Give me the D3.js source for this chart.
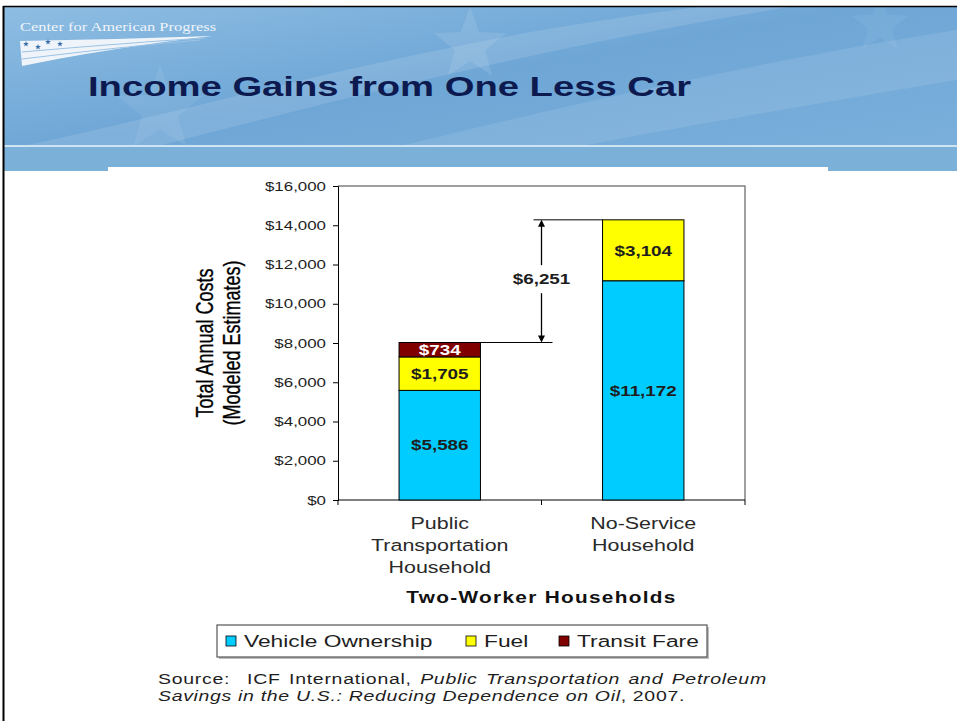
<!DOCTYPE html>
<html>
<head>
<meta charset="utf-8">
<script src="https://cdn.jsdelivr.net/npm/d3@7/dist/d3.min.js"></script>
<style>
  html, body { margin: 0; padding: 0; background: #fff; }
  svg { display: block; font-family: Arial, "Liberation Sans", sans-serif; }
</style>
</head>
<body>
<div id="chart"></div>
<script>
//Datos del gráfico
const categories = ['Public Transportation Household', 'No-Service Household'];
const categoryLines = [['Public', 'Transportation', 'Household'], ['No-Service', 'Household']];
const seriesNames = ['Vehicle Ownership', 'Fuel', 'Transit Fare'];
const vehicleOwnership = [5586, 11172];
const fuel = [1705, 3104];
const transitFare = [734, 0];
const yTicks = [0, 2000, 4000, 6000, 8000, 10000, 12000, 14000, 16000];

//Colores fijos
const COLOR_VEHICLE = '#00CCFF',
  COLOR_FUEL = '#FFFF00',
  COLOR_FARE = '#800000',
  COLOR_TITLE = '#0d1a50',
  COLOR_TEXT = '#1e1e1e';

const W = 957, H = 721;
const SX = 1.3; // la imagen original está estirada en horizontal

const svg = d3.select('#chart').append('svg')
  .attr('width', W).attr('height', H);

/////
// Cabecera de la diapositiva
/////
const defs = svg.append('defs');
const grad = defs.append('linearGradient').attr('id', 'hdr')
  .attr('x1', '0').attr('y1', '0').attr('x2', '1').attr('y2', '1');
grad.append('stop').attr('offset', '0%').attr('stop-color', '#8ebde2');
grad.append('stop').attr('offset', '45%').attr('stop-color', '#6ea6d6');
grad.append('stop').attr('offset', '100%').attr('stop-color', '#7cb1db');

svg.append('rect').attr('x', 4).attr('y', 7).attr('width', W - 4).attr('height', 164)
  .attr('fill', 'url(#hdr)');

// franjas claras en diagonal
svg.append('path')
  .attr('d', 'M4,150 C200,110 420,40 700,7 L790,7 C520,50 260,120 60,171 L4,171 Z')
  .attr('fill', '#ffffff').attr('opacity', 0.12);
svg.append('path')
  .attr('d', 'M300,171 C500,120 760,60 957,30 L957,80 C780,110 600,140 460,171 Z')
  .attr('fill', '#ffffff').attr('opacity', 0.10);

// estrellas tenues
function star(cx, cy, r) {
  const pts = d3.range(10).map(i => {
    const a = -Math.PI / 2 + i * Math.PI / 5;
    const rr = i % 2 ? r * 0.42 : r;
    return [cx + rr * Math.cos(a), cy + rr * Math.sin(a)];
  });
  return 'M' + pts.join('L') + 'Z';
}
[[470, 45, 38, 0.10], [160, 110, 45, 0.07], [880, 25, 30, 0.06]].forEach(s => {
  svg.append('path').attr('d', star(s[0], s[1], s[2])).attr('fill', '#ffffff').attr('opacity', s[3]);
});

// línea y banda inferior de la cabecera
svg.append('rect').attr('x', 4).attr('y', 147).attr('width', W - 4).attr('height', 24).attr('fill', '#7bb0d9');
svg.append('rect').attr('x', 4).attr('y', 145).attr('width', W - 4).attr('height', 2).attr('fill', '#cfe4f3');
svg.append('rect').attr('x', 4).attr('y', 171).attr('width', W - 4).attr('height', H - 171).attr('fill', '#ffffff');
svg.append('rect').attr('x', 108).attr('y', 167).attr('width', 720).attr('height', 10).attr('fill', '#ffffff');

// bordes negros
svg.append('rect').attr('x', 0).attr('y', 0).attr('width', W).attr('height', 6).attr('fill', '#ffffff');
svg.append('line').attr('x1', 3).attr('x2', W).attr('y1', 6.5).attr('y2', 6.5).attr('stroke', '#000').attr('stroke-width', 1.5);
svg.append('line').attr('x1', 3.5).attr('x2', 3.5).attr('y1', 6).attr('y2', H).attr('stroke', '#000').attr('stroke-width', 2);

// logotipo
svg.append('text')
  .attr('transform', 'translate(20,31) scale(1.22,1)')
  .attr('font-family', '"Liberation Serif", "DejaVu Serif", serif')
  .attr('font-size', 13.5).attr('fill', '#eef4fa')
  .text('Center for American Progress');
svg.append('path')
  .attr('d', 'M20,41 C80,40 150,38 212,36 C160,42 90,52 22,66 Z')
  .attr('fill', '#f4f8fc').attr('opacity', 0.95);
svg.append('path')
  .attr('d', 'M22,52 C80,47 140,42 205,38 M22,59 C80,52 140,45 200,40')
  .attr('fill', 'none').attr('stroke', '#9cc3e4').attr('stroke-width', 1.2);
[[26, 44], [38, 47], [48, 42], [60, 44]].forEach(p => {
  svg.append('path').attr('d', star(p[0], p[1], 3)).attr('fill', '#3a6fa8');
});

// título
svg.append('text')
  .attr('transform', 'translate(88,95.5) scale(1.39,1)')
  .attr('font-size', 27.5).attr('font-weight', 'bold').attr('fill', COLOR_TITLE)
  .text('Income Gains from One Less Car');

/////
// Gráfico
/////
const plot = { left: 338, right: 745, top: 186, bottom: 500 };

const x = d3.scaleBand()
  .domain(categories)
  .range([plot.left, plot.right])
  .paddingInner(0.6)
  .paddingOuter(0.3);

const y = d3.scaleLinear()
  .domain([0, 16000])
  .range([plot.bottom, plot.top]);

const color = d3.scaleOrdinal().domain(seriesNames).range([COLOR_VEHICLE, COLOR_FUEL, COLOR_FARE]);
const labelColor = d3.scaleOrdinal().domain(seriesNames).range([COLOR_TEXT, COLOR_TEXT, '#ffffff']);

const rows = categories.map((c, i) => ({
  category: c,
  'Vehicle Ownership': vehicleOwnership[i],
  'Fuel': fuel[i],
  'Transit Fare': transitFare[i]
}));
const stacked = d3.stack().keys(seriesNames)(rows);
const totals = rows.map(r => d3.sum(seriesNames, k => r[k]));
const fmt = v => '$' + d3.format(',')(v);

// marco del área de trazado
svg.append('path')
  .attr('d', `M${plot.left},${plot.top}H${plot.right}V${plot.bottom}`)
  .attr('fill', 'none').attr('stroke', '#808080').attr('stroke-width', 1.5);

// eje Y
const yAxis = svg.append('g')
  .attr('transform', `translate(${plot.left},0)`)
  .call(d3.axisLeft(y).tickValues(yTicks).tickSize(5).tickFormat(fmt));
yAxis.select('.domain').attr('stroke', '#000');
yAxis.selectAll('.tick line').attr('stroke', '#000');
yAxis.selectAll('.tick text')
  .attr('x', -12 / SX)
  .attr('transform', `scale(${SX},1)`)
  .attr('font-size', 13)
  .attr('font-family', 'Arial, "Liberation Sans", sans-serif')
  .attr('fill', COLOR_TEXT);

// eje X (marcas en los límites de cada categoría)
const step = x.step();
const boundaries = [plot.left]
  .concat(categories.slice(0, -1).map(c => x(c) + x.bandwidth() + step * x.paddingInner() / 2))
  .concat([plot.right]);
svg.append('line')
  .attr('x1', plot.left).attr('x2', plot.right)
  .attr('y1', plot.bottom).attr('y2', plot.bottom)
  .attr('stroke', '#000').attr('stroke-width', 1.2);
svg.selectAll('.xtick').data(boundaries).enter().append('line')
  .attr('x1', d => d).attr('x2', d => d)
  .attr('y1', plot.bottom).attr('y2', plot.bottom + 5)
  .attr('stroke', '#000');

// barras apiladas
const layers = svg.selectAll('.layer').data(stacked).enter().append('g')
  .attr('fill', d => color(d.key));
layers.selectAll('rect').data(d => d.map((v, i) => ({ key: d.key, v: v, cat: categories[i] })))
  .enter().filter(d => d.v[1] - d.v[0] > 0).append('rect')
  .attr('x', d => x(d.cat))
  .attr('y', d => y(d.v[1]))
  .attr('width', x.bandwidth())
  .attr('height', d => y(d.v[0]) - y(d.v[1]))
  .attr('stroke', '#000').attr('stroke-width', 1);

// etiquetas de valor
stacked.forEach(layer => {
  layer.forEach((v, i) => {
    const val = v[1] - v[0];
    if (val <= 0) return;
    const cx = x(categories[i]) + x.bandwidth() / 2;
    const cy = (y(v[0]) + y(v[1])) / 2;
    svg.append('text')
      .attr('transform', `translate(${cx},${cy}) scale(${SX},1)`)
      .attr('text-anchor', 'middle').attr('dy', '0.36em')
      .attr('font-size', 14.5).attr('font-weight', 'bold')
      .attr('fill', labelColor(layer.key))
      .text(fmt(val));
  });
});

// anotación de la diferencia
const diff = totals[1] - totals[0];
const ax = boundaries[1];
const yLow = y(totals[0]), yHigh = y(totals[1]);
svg.append('line')
  .attr('x1', x(categories[0]) + x.bandwidth()).attr('x2', ax + 11)
  .attr('y1', yLow).attr('y2', yLow).attr('stroke', '#000');
svg.append('line')
  .attr('x1', ax - 8).attr('x2', x(categories[1]))
  .attr('y1', yHigh).attr('y2', yHigh).attr('stroke', '#000');
const yMid = (yLow + yHigh) / 2 - 2;
svg.append('line').attr('x1', ax).attr('x2', ax).attr('y1', yHigh + 6).attr('y2', yMid - 14)
  .attr('stroke', '#000').attr('stroke-width', 1.3);
svg.append('line').attr('x1', ax).attr('x2', ax).attr('y1', yMid + 14).attr('y2', yLow - 6)
  .attr('stroke', '#000').attr('stroke-width', 1.3);
svg.append('path').attr('d', `M${ax},${yHigh}l-3.5,7h7z`).attr('fill', '#000');
svg.append('path').attr('d', `M${ax},${yLow}l-3.5,-7h7z`).attr('fill', '#000');
svg.append('text')
  .attr('transform', `translate(${ax},${yMid}) scale(${SX},1)`)
  .attr('text-anchor', 'middle').attr('dy', '0.36em')
  .attr('font-size', 14.5).attr('font-weight', 'bold').attr('fill', COLOR_TEXT)
  .text(fmt(diff));

// título del eje Y
[['Total Annual Costs', 205], ['(Modeled Estimates)', 232]].forEach(t => {
  svg.append('text')
    .attr('transform', `translate(${t[1]},${(plot.top + plot.bottom) / 2}) scale(${SX},1) rotate(-90)`)
    .attr('text-anchor', 'middle').attr('dy', '0.36em')
    .attr('font-size', 18).attr('fill', '#000')
    .attr('stroke', '#000').attr('stroke-width', 0.25)
    .text(t[0]);
});

// etiquetas de categoría
categories.forEach((c, i) => {
  categoryLines[i].forEach((line, j) => {
    svg.append('text')
      .attr('transform', `translate(${x(c) + x.bandwidth() / 2},${529 + j * 22}) scale(${SX},1)`)
      .attr('text-anchor', 'middle')
      .attr('font-size', 16.5).attr('fill', '#2a2a2a')
      .text(line);
  });
});

svg.append('text')
  .attr('transform', `translate(${boundaries[1]},603) scale(${SX},1)`)
  .attr('text-anchor', 'middle')
  .attr('font-size', 16).attr('font-weight', 'bold').attr('letter-spacing', 1)
  .attr('fill', '#111')
  .text('Two-Worker Households');

// leyenda
svg.append('rect').attr('x', 219).attr('y', 627).attr('width', 490).attr('height', 32).attr('fill', '#bdbdbd');
svg.append('rect').attr('x', 217).attr('y', 625).attr('width', 490).attr('height', 32)
  .attr('fill', '#fff').attr('stroke', '#555').attr('stroke-width', 1.2);
const legendX = [226, 466, 559];
const legend = svg.selectAll('.leg').data(seriesNames).enter().append('g')
  .attr('transform', (d, i) => `translate(${legendX[i]},0)`);
legend.append('rect').attr('x', 0).attr('y', 636).attr('width', 10).attr('height', 10)
  .attr('fill', d => color(d)).attr('stroke', '#000').attr('stroke-width', 0.8);
legend.append('text')
  .attr('transform', `translate(18,647) scale(1.34,1)`)
  .attr('font-size', 17).attr('fill', COLOR_TEXT)
  .text(d => d);

// fuente
const src1 = svg.append('text')
  .attr('transform', `translate(158,684) scale(${SX},1)`)
  .attr('font-size', 15).attr('fill', COLOR_TEXT)
  .attr('letter-spacing', 0.55).attr('word-spacing', 1.8);
src1.append('tspan').attr('xml:space', 'preserve').text('Source:  ICF International, ');
src1.append('tspan').attr('font-style', 'italic').text('Public Transportation and Petroleum');
const src2 = svg.append('text')
  .attr('transform', `translate(158,701) scale(${SX},1)`)
  .attr('font-size', 15).attr('fill', COLOR_TEXT)
  .attr('letter-spacing', 0.52);
src2.append('tspan').attr('font-style', 'italic').text('Savings in the U.S.: Reducing Dependence on Oil');
src2.append('tspan').text(', 2007.');
</script>
</body>
</html>
